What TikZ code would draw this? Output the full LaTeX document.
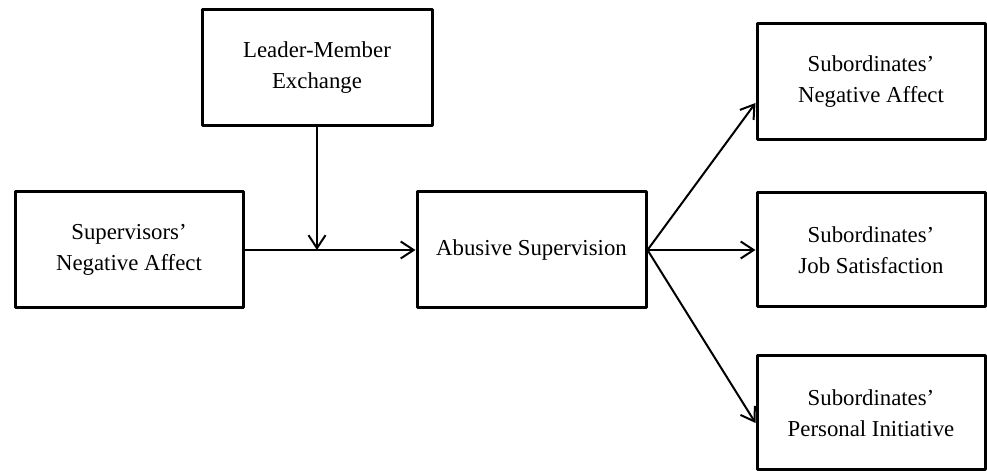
\documentclass[tikz,border=0pt]{standalone}
\usepackage{fontspec}
\setmainfont{Liberation Serif}
\usetikzlibrary{arrows.meta,positioning}

\tikzset{
  varbox/.style={draw=black, line width=1.5pt, align=center, minimum width=115pt, minimum height=58pt, inner sep=0pt, font=\fontsize{11.4}{15.5}\selectfont},
  path/.style={line width=1pt, ->}
}

\begin{document}
\begin{tikzpicture}[line cap=round,line join=round,>={Straight Barb[length=6.5pt,width=8.5pt]},x=0.5pt,y=0.5pt]
			\useasboundingbox (0,0) rectangle (987,471);
			\node[varbox] (lmx) at (317,403) {Leader-Member\\Exchange};
			\node[varbox, minimum width=114pt] (supna) at (129,221) {Supervisors’\\Negative Affect};
			\node[varbox, minimum width=114.5pt] (abuse) at (531.5,221) {Abusive Supervision};
			\node[varbox, minimum width=114pt] (subna) at (871,389) {Subordinates’\\Negative Affect};
			\node[varbox, minimum width=114pt, minimum height=57pt] (subjs) at (871,221) {Subordinates’\\Job Satisfaction};
			\node[varbox, minimum width=114pt, minimum height=57pt] (subpi) at (871,58) {Subordinates’\\Personal Initiative};
			\coordinate (mod) at (lmx.south |- supna.east);
			\draw[path] (supna.east) -- (abuse.west);
			\draw[path] (lmx.south) -- (mod);
			\draw[path] (abuse.east) -- ([yshift=-10.5pt]subna.west);
			\draw[path] (abuse.east) -- (subjs.west);
			\draw[path] (abuse.east) -- ([yshift=-5pt]subpi.west);
\end{tikzpicture}
\end{document}
